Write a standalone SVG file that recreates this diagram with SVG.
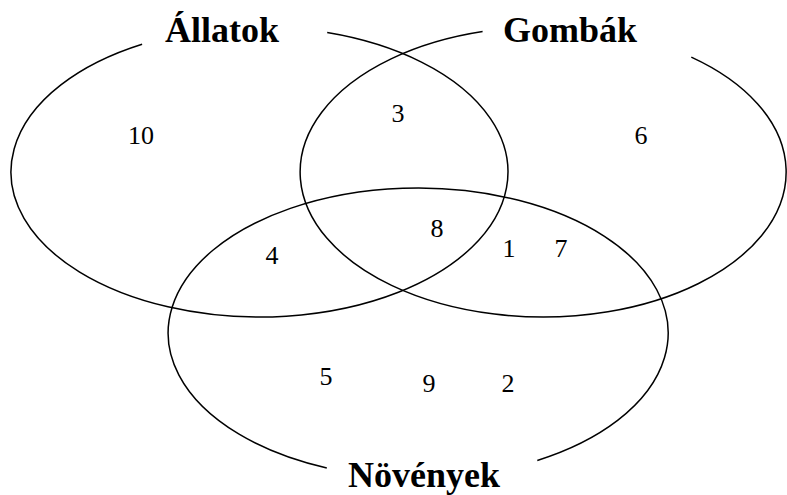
<svg xmlns="http://www.w3.org/2000/svg" width="787" height="495" viewBox="0 0 787 495">
<style>
.set{fill:none;stroke:#000;stroke-width:1.5}
text{font-family:'Liberation Serif','DejaVu Serif',serif;fill:#000;text-anchor:middle}
.title{font-weight:bold;font-size:36px}
.num{font-size:26px}
</style>
<rect width="787" height="495" fill="#fff"/>
<g id="connectors"></g>
<g id="allatok">
<path class="set" d="M 327.2,32.5 A 248.5 145 0 1 1 142.1,44.2"/>
<text class="title" x="222" y="42" font-family="'Liberation Serif', serif">Állatok</text>
</g>
<g id="gombak">
<path class="set" d="M 691.3,57.1 A 243 145 0 1 1 482.6,31.6"/>
<text class="title" x="570" y="42" font-family="'Liberation Serif', serif">Gombák</text>
</g>
<g id="novenyek">
<path class="set" d="M 326.8,468 A 250 145 0 1 1 537.3,460.5"/>
<text class="title" x="424" y="487" font-family="'Liberation Serif', serif">Növények</text>
</g>
<g id="numbers">
<text class="num" x="141" y="144" font-family="'Liberation Serif', serif">10</text>
<text class="num" x="398" y="122" font-family="'Liberation Serif', serif">3</text>
<text class="num" x="641" y="144" font-family="'Liberation Serif', serif">6</text>
<text class="num" x="437" y="237" font-family="'Liberation Serif', serif">8</text>
<text class="num" x="272" y="264" font-family="'Liberation Serif', serif">4</text>
<text class="num" x="509" y="257" font-family="'Liberation Serif', serif">1</text>
<text class="num" x="561" y="257" font-family="'Liberation Serif', serif">7</text>
<text class="num" x="326" y="385" font-family="'Liberation Serif', serif">5</text>
<text class="num" x="429" y="392" font-family="'Liberation Serif', serif">9</text>
<text class="num" x="508" y="392" font-family="'Liberation Serif', serif">2</text>
</g>
</svg>
